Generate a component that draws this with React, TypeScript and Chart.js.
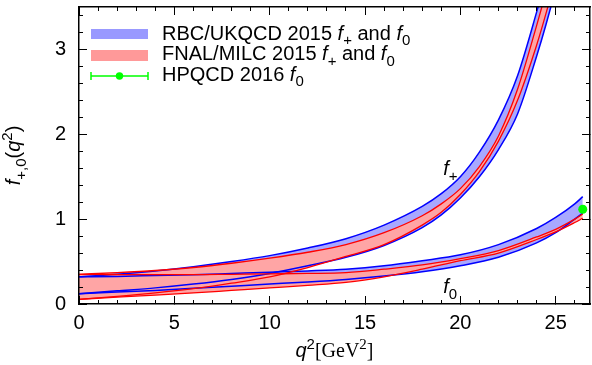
import React, { useEffect, useRef } from 'react';
import { Chart, registerables } from 'chart.js';

Chart.register(...registerables);

// ---------- axis ranges / ticks ----------
const xMax = 26.8;
const yMax = 3.5;
const xMajorStep = 5;
const xMinorStep = 1;
const yMajorStep = 1;
const yMinorStep = 0.2;

// ---------- f+ bands ----------
const q2Plus = [0, 2, 4, 6, 8, 10, 12, 14, 16, 18, 19, 20, 21, 22, 23, 24, 24.5, 25, 25.5];
const rbcPlusUpper = [0.32, 0.35, 0.39, 0.44, 0.50, 0.57, 0.66, 0.77, 0.93, 1.15, 1.30, 1.50, 1.79, 2.17, 2.69, 3.44, 3.85, 4.3, 4.8];
const rbcPlusLower = [0.12, 0.155, 0.19, 0.235, 0.29, 0.36, 0.45, 0.55, 0.69, 0.90, 1.05, 1.25, 1.50, 1.82, 2.24, 2.92, 3.30, 3.72, 4.2];
const fnalPlusUpper = [0.35, 0.37, 0.395, 0.43, 0.48, 0.54, 0.61, 0.70, 0.84, 1.04, 1.18, 1.36, 1.62, 1.98, 2.53, 3.28, 3.68, 4.1, 4.6];
const fnalPlusLower = [0.055, 0.09, 0.13, 0.18, 0.245, 0.32, 0.43, 0.56, 0.70, 0.93, 1.08, 1.29, 1.56, 1.92, 2.40, 3.05, 3.43, 3.85, 4.35];

// ---------- f0 bands ----------
const q2Zero = [0, 2, 4, 6, 8, 10, 12, 14, 16, 18, 20, 22, 24, 25, 26, 26.42];
const rbcZeroUpper = [0.32, 0.325, 0.335, 0.345, 0.36, 0.375, 0.39, 0.41, 0.45, 0.51, 0.58, 0.70, 0.89, 1.02, 1.18, 1.265];
const rbcZeroLower = [0.12, 0.14, 0.16, 0.185, 0.21, 0.235, 0.26, 0.29, 0.33, 0.38, 0.45, 0.55, 0.72, 0.84, 1.00, 1.07];
const fnalZeroUpper = [0.35, 0.345, 0.345, 0.345, 0.35, 0.355, 0.36, 0.37, 0.41, 0.46, 0.535, 0.63, 0.79, 0.88, 1.00, 1.06];
const fnalZeroLower = [0.055, 0.08, 0.105, 0.13, 0.16, 0.19, 0.22, 0.255, 0.32, 0.41, 0.51, 0.60, 0.76, 0.85, 0.96, 1.01];

// ---------- HPQCD 2016 f0(q2max) ----------
const hpqcdQ2 = [26.42];
const hpqcdF0 = [1.117];

// ---------- label positions (data coords) ----------
const fPlusLabelAt = { x: 19.1, y: 1.52 };
const fZeroLabelAt = { x: 19.1, y: 0.13 };

const SANS = "'Liberation Sans', Arial, Helvetica, sans-serif";
const SERIF = "'Liberation Serif', 'Times New Roman', serif";
const FS = 20;

const BLUE_LINE = '#0000ff';
const BLUE_FILL = 'rgb(168,168,255)';
const BLUE_KEY = 'rgb(153,153,255)';
const RED_LINE = '#ff0000';
const RED_FILL = 'rgb(255,165,165)';
const RED_KEY = 'rgb(255,153,153)';
const GREEN = '#00ff00';

type Part = { t: string; it?: boolean; sub?: boolean; sup?: boolean; serif?: boolean };

function drawRich(ctx: CanvasRenderingContext2D, parts: Part[], x: number, y: number, size: number, align: 'left' | 'center' = 'left') {
  const font = (p: Part) => `${p.it ? 'italic ' : ''}${p.sub || p.sup ? Math.round(size * 0.75) : size}px ${p.serif ? SERIF : SANS}`;
  let w = 0;
  for (const p of parts) {
    ctx.font = font(p);
    w += ctx.measureText(p.t).width;
  }
  let cx = align === 'center' ? x - w / 2 : x;
  ctx.textAlign = 'left';
  ctx.textBaseline = 'alphabetic';
  for (const p of parts) {
    ctx.font = font(p);
    const dy = p.sub ? size * 0.28 : p.sup ? -size * 0.42 : 0;
    ctx.fillText(p.t, cx, y + dy);
    cx += ctx.measureText(p.t).width;
  }
}

const pts = (xs: number[], ys: number[]) => xs.map((x, i) => ({ x, y: ys[i] }));

const overlayPlugin = {
  id: 'overlay',
  afterDraw(chart: any) {
    const ctx: CanvasRenderingContext2D = chart.ctx;
    const a = chart.chartArea;
    const xs = chart.scales.x;
    const ys = chart.scales.y;
    ctx.save();
    // legend
    const sx0 = a.left + 12;
    const sx1 = a.left + 69;
    const tx = a.left + 83;
    ctx.fillStyle = BLUE_KEY;
    ctx.fillRect(sx0, a.top + 22, sx1 - sx0, 10);
    ctx.fillStyle = RED_KEY;
    ctx.fillRect(sx0, a.top + 43, sx1 - sx0, 11);
    const ey = a.top + 69;
    ctx.strokeStyle = GREEN;
    ctx.lineWidth = 1.5;
    ctx.beginPath();
    ctx.moveTo(sx0, ey); ctx.lineTo(sx1, ey);
    ctx.moveTo(sx0, ey - 4); ctx.lineTo(sx0, ey + 4);
    ctx.moveTo(sx1, ey - 4); ctx.lineTo(sx1, ey + 4);
    ctx.stroke();
    ctx.fillStyle = GREEN;
    ctx.beginPath();
    ctx.arc((sx0 + sx1) / 2, ey, 3.7, 0, Math.PI * 2);
    ctx.fill();

    ctx.fillStyle = '#000';
    drawRich(ctx, [{ t: 'RBC/UKQCD 2015 ' }, { t: 'f', it: true }, { t: '+', sub: true }, { t: ' and ' }, { t: 'f', it: true }, { t: '0', sub: true }], tx, a.top + 32.5, FS);
    drawRich(ctx, [{ t: 'FNAL/MILC 2015 ' }, { t: 'f', it: true }, { t: '+', sub: true }, { t: ' and ' }, { t: 'f', it: true }, { t: '0', sub: true }], tx, a.top + 53, FS);
    drawRich(ctx, [{ t: 'HPQCD 2016 ' }, { t: 'f', it: true }, { t: '0', sub: true }], tx, a.top + 73.7, FS);

    // curve labels
    drawRich(ctx, [{ t: 'f', it: true }, { t: '+', sub: true }], xs.getPixelForValue(fPlusLabelAt.x), ys.getPixelForValue(fPlusLabelAt.y), FS);
    drawRich(ctx, [{ t: 'f', it: true }, { t: '0', sub: true }], xs.getPixelForValue(fZeroLabelAt.x), ys.getPixelForValue(fZeroLabelAt.y), FS);

    // x axis title
    drawRich(ctx, [{ t: 'q', it: true }, { t: '2', sup: true }, { t: '[GeV', serif: true }, { t: '2', sup: true, serif: true }, { t: ']', serif: true }], (a.left + a.right) / 2, 357, FS, 'center');

    // y axis title
    ctx.translate(20, (a.top + a.bottom) / 2);
    ctx.rotate(-Math.PI / 2);
    drawRich(ctx, [{ t: 'f', it: true }, { t: '+,0', sub: true }, { t: '(' }, { t: 'q', it: true }, { t: '2', sup: true }, { t: ')' }], 0, 0, FS, 'center');
    ctx.restore();
  },
};

const noPad = (s: any) => {
  s.paddingTop = 0;
  s.paddingBottom = 0;
  s.paddingLeft = 0;
  s.paddingRight = 0;
};

function axis(extra: any, size?: number) {
  return {
    type: 'linear',
    min: 0,
    ...extra,
    afterFit: (s: any) => {
      noPad(s);
      if (size !== undefined) {
        if (s.isHorizontal()) s.height = size;
        else s.width = size;
      }
    },
  };
}

export default function App() {
  const ref = useRef<HTMLCanvasElement | null>(null);
  useEffect(() => {
    if (!ref.current) return;
    const band = (label: string, xsArr: number[], up: number[], lo: number[], line: string, fill: string, lw: number) => [
      {
        label: label + ' upper',
        data: pts(xsArr, up),
        borderColor: line,
        backgroundColor: fill,
        borderWidth: lw,
        pointRadius: 0,
        fill: '+1',
        cubicInterpolationMode: 'monotone',
        xAxisID: 'x',
        yAxisID: 'y',
      },
      {
        label: label + ' lower',
        data: pts(xsArr, lo),
        borderColor: line,
        backgroundColor: fill,
        borderWidth: lw,
        pointRadius: 0,
        fill: false,
        cubicInterpolationMode: 'monotone',
        xAxisID: 'x',
        yAxisID: 'y',
      },
    ];
    const tickGrid = (len: number) => ({
      display: true,
      drawOnChartArea: false,
      drawTicks: true,
      tickLength: len,
      tickColor: '#000',
      tickWidth: 1,
      z: 1,
    });
    const frame = { display: true, color: '#000', width: 1.5, z: 1 };
    const chart = new Chart(ref.current, {
      type: 'line',
      data: {
        datasets: [
          {
            label: 'HPQCD 2016 f0',
            data: pts(hpqcdQ2, hpqcdF0),
            showLine: false,
            pointRadius: 4.5,
            pointBorderWidth: 0,
            pointBackgroundColor: GREEN,
            pointBorderColor: GREEN,
            borderColor: GREEN,
            backgroundColor: GREEN,
            fill: false,
            xAxisID: 'x',
            yAxisID: 'y',
          },
          ...band('FNAL f+', q2Plus, fnalPlusUpper, fnalPlusLower, RED_LINE, RED_FILL, 1.3),
          ...band('FNAL f0', q2Zero, fnalZeroUpper, fnalZeroLower, RED_LINE, RED_FILL, 1.3),
          ...band('RBC f+', q2Plus, rbcPlusUpper, rbcPlusLower, BLUE_LINE, BLUE_FILL, 1.5),
          ...band('RBC f0', q2Zero, rbcZeroUpper, rbcZeroLower, BLUE_LINE, BLUE_FILL, 1.5),
        ] as any,
      },
      options: {
        animation: false,
        responsive: false,
        devicePixelRatio: 1,
        layout: { autoPadding: false, padding: { top: 7, right: 2, left: 0, bottom: 0 } },
        plugins: {
          legend: { display: false },
          tooltip: { enabled: false },
          filler: { drawTime: 'beforeDatasetsDraw' },
        },
        scales: {
          x: axis({
            position: 'bottom',
            max: xMax,
            ticks: { stepSize: xMajorStep, includeBounds: false, font: { family: SANS, size: FS }, color: '#000', padding: 15, maxRotation: 0, autoSkip: false },
            grid: tickGrid(-8),
            border: frame,
          }, 61),
          x2: axis({
            axis: 'x',
            position: 'top',
            max: xMax,
            ticks: { stepSize: xMajorStep, includeBounds: false, display: false },
            grid: tickGrid(-8),
            border: frame,
          }, 0),
          xMinB: axis({
            axis: 'x',
            position: { y: 0 },
            max: xMax,
            ticks: { stepSize: xMinorStep, includeBounds: false, display: false },
            grid: tickGrid(-4),
            border: { display: false },
          }, 0),
          xMinT: axis({
            axis: 'x',
            position: { y: yMax },
            max: xMax,
            ticks: { stepSize: xMinorStep, includeBounds: false, display: false },
            grid: tickGrid(4),
            border: { display: false },
          }, 0),
          y: axis({
            position: 'left',
            max: yMax,
            ticks: { stepSize: yMajorStep, includeBounds: false, font: { family: SANS, size: FS }, color: '#000', padding: 21 },
            grid: tickGrid(-8),
            border: frame,
          }, 79),
          y2: axis({
            axis: 'y',
            position: 'right',
            max: yMax,
            ticks: { stepSize: yMajorStep, includeBounds: false, display: false },
            grid: tickGrid(-8),
            border: frame,
          }, 0),
          yMinL: axis({
            axis: 'y',
            position: { x: 0 },
            max: yMax,
            ticks: { stepSize: yMinorStep, includeBounds: false, display: false },
            grid: tickGrid(-4),
            border: { display: false },
          }, 0),
          yMinR: axis({
            axis: 'y',
            position: { x: xMax },
            max: yMax,
            ticks: { stepSize: yMinorStep, includeBounds: false, display: false },
            grid: tickGrid(4),
            border: { display: false },
          }, 0),
        } as any,
      },
      plugins: [overlayPlugin as any],
    });
    return () => chart.destroy();
  }, []);
  return (
    <div style={{ position: 'absolute', left: 0, top: 0, width: 592, height: 365, background: '#fff' }}>
      <canvas ref={ref} width={592} height={365} />
    </div>
  );
}
